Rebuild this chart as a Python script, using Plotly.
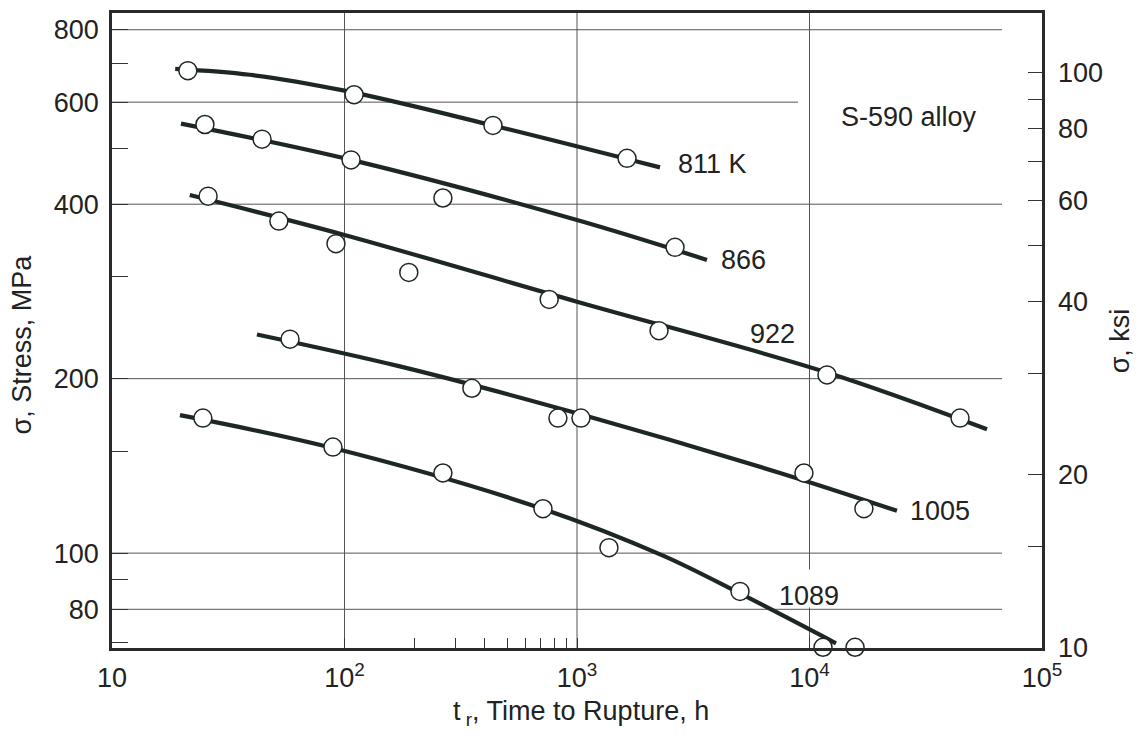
import plotly.graph_objects as go
import math

# ---------------- data ----------------
temps = ["811 K", "866", "922", "1005", "1089"]

# measured rupture points (time h, stress MPa)
t_811 = [21.2, 110, 435, 1641]
s_811 = [680, 618, 547, 480]
t_866 = [25.1, 44.2, 106.7, 265, 2640]
s_866 = [549, 518, 477, 410, 337]
t_922 = [25.9, 52.2, 91.9, 189, 759, 2253, 11890, 44400]
s_922 = [413, 374, 342, 305, 274, 242, 203, 171]
t_1005 = [58.3, 353, 828, 1040, 9465, 17140]
s_1005 = [234, 192.5, 171, 171, 137.5, 119.3]
t_1089 = [24.6, 89.2, 265, 714, 1372, 5023, 11430, 15700]
s_1089 = [171, 152.4, 137.5, 119.3, 102.2, 85.9, 68.8, 68.8]

# fitted curves (time h, stress MPa)
ct_811 = [18.7, 39.2, 100, 435, 2275]
cs_811 = [685, 669, 628, 547, 463]
ct_866 = [19.8, 106.7, 1000, 3622]
cs_866 = [551, 477, 375.6, 320.6]
ct_922 = [21.6, 100, 1000, 11890, 58000]
cs_922 = [414.8, 354, 271.6, 205, 163.6]
ct_1005 = [42.0, 173, 1000, 7464, 23770]
cs_1005 = [238.4, 210.0, 174.3, 137.5, 118.3]
ct_1089 = [19.6, 89.2, 714, 2344, 5023, 13000]
cs_1089 = [173, 151.8, 119.2, 99.0, 85.2, 69.9]

# curve labels
label_text = ["811 K", "866", "922", "1005", "1089", "S-590 alloy"]
label_t = [2667, 4083, 5440, 26550, 7245, 13390]
label_s = [469, 320.8, 238.4, 118.3, 84.5, 564.6]

# axes ticks
x_tickvals = [10, 100, 200, 300, 400, 500, 600, 700, 800, 900, 1000, 10000, 100000]
x_ticktext = ["10", "10<sup>2</sup>", "", "", "", "", "", "", "", "",
              "10<sup>3</sup>", "10<sup>4</sup>", "10<sup>5</sup>"]
y_tickvals = [70, 80, 90, 100, 150, 200, 300, 400, 500, 600, 700, 800]
y_ticktext = ["", "80", "", "100", "", "200", "", "400", "", "600", "", "800"]
y2_tickvals = [10, 15, 20, 30, 40, 50, 60, 70, 80, 90, 100]
y2_ticktext = ["10", "", "20", "", "40", "", "60", "", "80", "", "100"]

# grid lines
hgrid_s = [80, 100, 200, 400, 600, 800]
hgrid_tend = [67300, 67300, 67300, 67300, 8923, 67300]
vgrid_t = [100, 1000]

# ---------------- style ----------------
INK = "#1e2823"
TXT = "#222222"
GRID = "#555555"
FONT = "Liberation Sans, Arial, sans-serif"
FS = 27

fig = go.Figure()

curves = [(ct_811, cs_811), (ct_866, cs_866), (ct_922, cs_922),
          (ct_1005, cs_1005), (ct_1089, cs_1089)]
points = [(t_811, s_811), (t_866, s_866), (t_922, s_922),
          (t_1005, s_1005), (t_1089, s_1089)]

for name, (ct, cs) in zip(temps, curves):
    fig.add_trace(go.Scatter(x=ct, y=cs, mode="lines", name=name,
                             line=dict(color=INK, width=4.2, shape="spline", smoothing=1.0),
                             showlegend=False, hoverinfo="skip"))
for name, (t, s) in zip(temps, points):
    fig.add_trace(go.Scatter(x=t, y=s, mode="markers", name=name,
                             marker=dict(size=18, color="white",
                                         line=dict(color=INK, width=1.5)),
                             cliponaxis=False, showlegend=False))

# empty trace to activate the right-hand ksi axis
fig.add_trace(go.Scatter(x=[], y=[], yaxis="y2", showlegend=False))

shapes = []
for s, te in zip(hgrid_s, hgrid_tend):
    shapes.append(dict(type="line", xref="x", yref="y", x0=10, x1=te, y0=s, y1=s,
                       line=dict(color=GRID, width=1), layer="below"))
for t in vgrid_t:
    shapes.append(dict(type="line", xref="x", yref="paper", x0=t, x1=t, y0=0, y1=1,
                       line=dict(color=GRID, width=1), layer="below"))
# 10^4 line, interrupted behind the "1089" label
shapes.append(dict(type="line", xref="x", yref="y", x0=10000, x1=10000, y0=93.7, y1=855,
                   line=dict(color=GRID, width=1), layer="below"))
shapes.append(dict(type="line", xref="x", yref="y", x0=10000, x1=10000, y0=60, y1=80.6,
                   line=dict(color=GRID, width=1), layer="below"))

annotations = []
for txt, t, s in zip(label_text, label_t, label_s):
    annotations.append(dict(x=math.log10(t), y=math.log10(s), xref="x", yref="y",
                            text=txt, showarrow=False, xanchor="left", yanchor="middle",
                            font=dict(family=FONT, size=FS, color=TXT)))
annotations.append(dict(x=-0.0968, y=0.478, xref="paper", yref="paper",
                        text="σ, Stress, MPa", textangle=-90, showarrow=False,
                        xanchor="center", yanchor="middle",
                        font=dict(family=FONT, size=FS, color=TXT)))
annotations.append(dict(x=1.0839, y=0.483, xref="paper", yref="paper",
                        text="σ, ksi", textangle=-90, showarrow=False,
                        xanchor="center", yanchor="middle",
                        font=dict(family=FONT, size=FS, color=TXT)))
annotations.append(dict(x=0.5043, y=-0.102, xref="paper", yref="paper",
                        text="t<sub> r</sub>, Time to Rupture, h", showarrow=False,
                        xanchor="center", yanchor="middle",
                        font=dict(family=FONT, size=FS, color=TXT)))

fig.update_layout(
    width=1144, height=735,
    margin=dict(l=112, r=102, t=10, b=87),
    paper_bgcolor="white", plot_bgcolor="white",
    font=dict(family=FONT, size=FS, color=TXT),
    shapes=shapes, annotations=annotations,
    xaxis=dict(type="log", range=[1, 5], tickmode="array",
               tickvals=x_tickvals, ticktext=x_ticktext,
               ticks="inside", ticklen=10, tickwidth=1, tickcolor="#333",
               ticklabelstandoff=4,
               showgrid=False, zeroline=False,
               showline=True, linewidth=2.5, linecolor="#2a2a2a", mirror=True,
               tickfont=dict(family=FONT, size=FS, color=TXT)),
    yaxis=dict(type="log", range=[math.log10(68.6), math.log10(855)], tickmode="array",
               tickvals=y_tickvals, ticktext=y_ticktext,
               ticks="inside", ticklen=16, tickwidth=1, tickcolor="#333",
               ticklabelstandoff=5,
               showgrid=False, zeroline=False,
               showline=True, linewidth=2.5, linecolor="#2a2a2a", mirror=True,
               tickfont=dict(family=FONT, size=FS, color=TXT)),
    yaxis2=dict(type="log", range=[1, 2.104], overlaying="y", side="right",
                tickmode="array", tickvals=y2_tickvals, ticktext=y2_ticktext,
                ticks="inside", ticklen=14, tickwidth=1, tickcolor="#333",
                ticklabelstandoff=15,
                showgrid=False, zeroline=False, showline=False,
                tickfont=dict(family=FONT, size=FS, color=TXT)),
)

fig.write_html("out.html")
